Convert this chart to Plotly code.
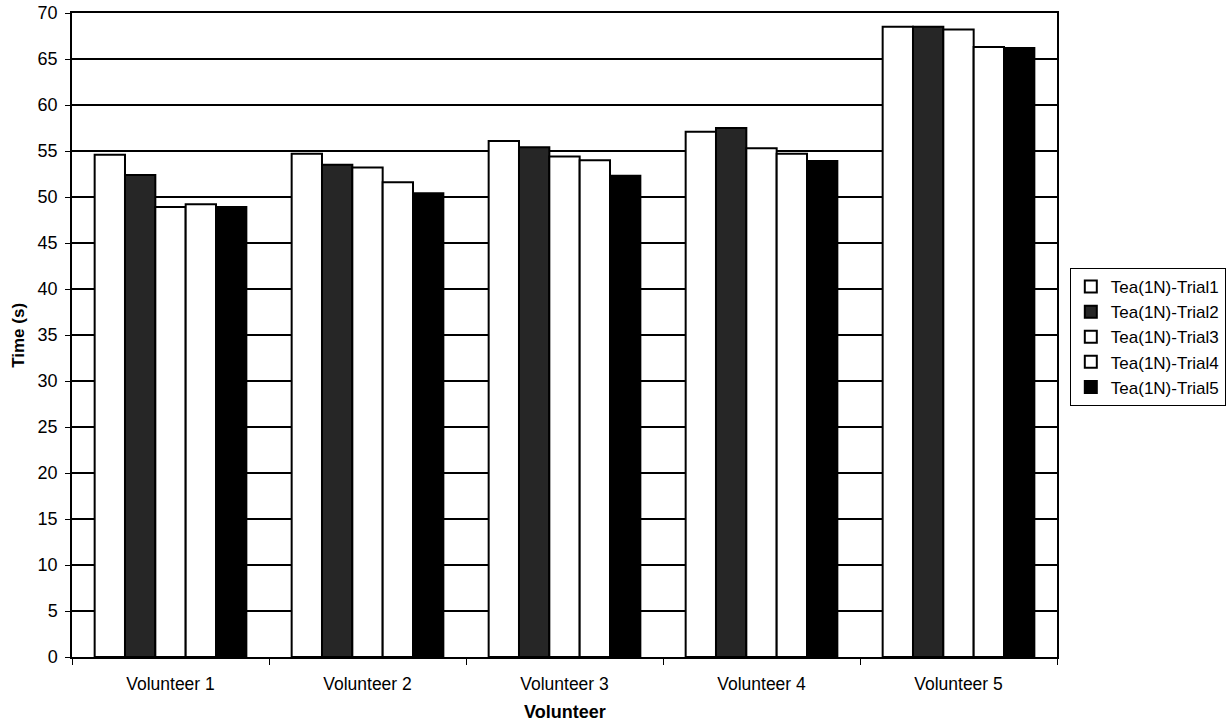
import plotly.graph_objects as go

categories = ["Volunteer 1", "Volunteer 2", "Volunteer 3", "Volunteer 4", "Volunteer 5"]
series_names = ["Tea(1N)-Trial1", "Tea(1N)-Trial2", "Tea(1N)-Trial3", "Tea(1N)-Trial4", "Tea(1N)-Trial5"]
trial1 = [54.6, 54.7, 56.1, 57.1, 68.5]
trial2 = [52.4, 53.5, 55.4, 57.5, 68.5]
trial3 = [48.9, 53.2, 54.4, 55.3, 68.2]
trial4 = [49.2, 51.6, 54.0, 54.7, 66.3]
trial5 = [48.9, 50.4, 52.3, 53.9, 66.2]
y_ticks = list(range(0, 75, 5))
x_title = "Volunteer"
y_title = "Time (s)"

series_values = [trial1, trial2, trial3, trial4, trial5]
fill_colors = ["#ffffff", "#262626", "#ffffff", "#ffffff", "#000000"]

fig = go.Figure()
for name, vals, col in zip(series_names, series_values, fill_colors):
    fig.add_trace(go.Bar(
        x=categories, y=vals, name=name,
        marker=dict(color=col, line=dict(color="#000000", width=2)),
    ))

font_family = "Liberation Sans, Arial, sans-serif"
fig.update_layout(
    width=1230, height=722,
    margin=dict(l=72, r=173, t=13, b=65, autoexpand=False),
    paper_bgcolor="#ffffff", plot_bgcolor="#ffffff",
    barmode="group", bargap=0.23, bargroupgap=0,
    font=dict(family=font_family, size=17, color="#000000"),
    showlegend=True,
    legend=dict(
        x=1.013, y=0.604, xanchor="left", yanchor="top",
        bordercolor="#000000", borderwidth=1, bgcolor="#ffffff",
        font=dict(size=17), traceorder="normal",
        itemwidth=30, tracegroupgap=0,
    ),
    xaxis=dict(
        automargin=False,
        showline=True, linecolor="#000000", linewidth=1.5, mirror=True,
        ticks="outside", ticklen=6, tickcolor="#000000", tickson="boundaries",
        tickfont=dict(size=17.5), ticklabelstandoff=10, showgrid=False,
    ),
    yaxis=dict(
        automargin=False,
        range=[0, 70], tickvals=y_ticks,
        showline=True, linecolor="#000000", linewidth=1.5, mirror=True,
        ticks="outside", ticklen=5, tickcolor="#000000",
        tickfont=dict(size=18), ticklabelstandoff=4,
        showgrid=True, gridcolor="#000000", gridwidth=1.5,
        zeroline=False,
    ),
    annotations=[
        dict(text="<b>" + x_title + "</b>", xref="paper", yref="paper",
             x=0.5, y=-0.085, xanchor="center", yanchor="middle",
             showarrow=False, font=dict(size=18)),
        dict(text="<b>" + y_title + "</b>", xref="paper", yref="paper",
             x=-0.055, y=0.5, xanchor="center", yanchor="middle", textangle=-90,
             showarrow=False, font=dict(size=17)),
    ],
)

fig.write_html(
    "out.html",
    config={"displayModeBar": False},
    post_script="document.body.style.margin='0';document.body.style.overflow='hidden';",
)
